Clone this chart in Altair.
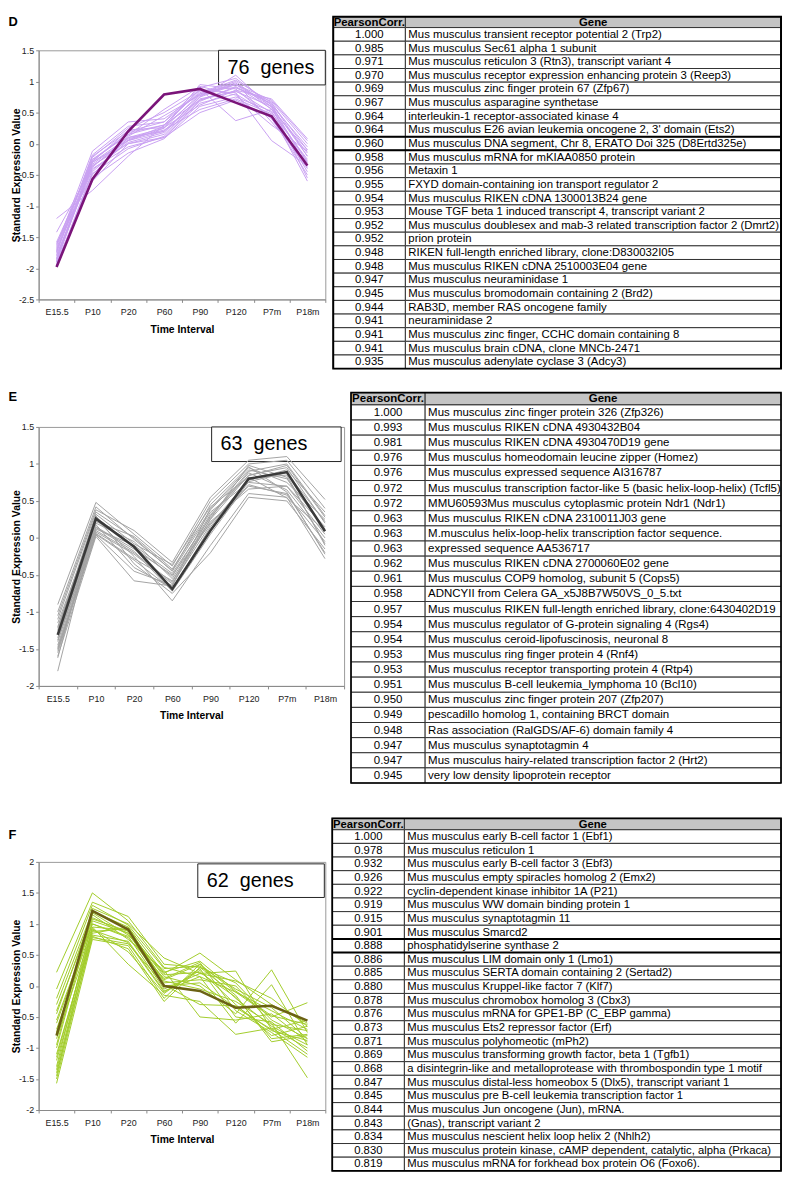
import altair as alt
import pandas as pd

FONT = "Liberation Sans"
TIMES = ["E15.5", "P10", "P20", "P60", "P90", "P120", "P7m", "P18m"]

D_BOLD = [-1.98, -0.57, 0.20, 0.79, 0.88, 0.66, 0.44, -0.35]
D_LINES = [
    [-1.95, -0.45, 0.05, 0.20, 0.75, 0.95, 0.60, -0.20],
    [-1.90, -0.30, 0.10, 0.25, 0.80, 1.00, 0.55, -0.30],
    [-1.85, -0.25, 0.15, 0.30, 0.85, 0.90, 0.65, -0.10],
    [-1.80, -0.35, 0.00, 0.15, 0.70, 0.85, 0.50, -0.25],
    [-1.75, -0.20, 0.20, 0.35, 0.90, 1.05, 0.62, -0.05],
    [-1.70, -0.40, -0.05, 0.10, 0.65, 0.80, 0.45, -0.35],
    [-1.65, -0.12, 0.35, 0.40, 0.80, 0.95, 0.70, 0.05],
    [-1.60, -0.50, 0.10, 0.20, 0.75, 1.10, 0.58, -0.15],
    [-1.58, -0.30, 0.05, 0.25, 0.95, 0.88, 0.40, -0.40],
    [-1.92, -0.55, -0.15, 0.08, 0.60, 0.75, 0.52, -0.45],
    [-1.88, -0.28, 0.18, 0.30, 0.70, 0.90, 0.68, 0.00],
    [-1.20, -0.75, -0.20, 0.30, 0.88, 0.37, 0.55, -0.10],
    [-1.42, -0.38, 0.12, 0.45, 0.78, 0.98, 0.35, -0.30],
    [-1.78, -0.42, 0.02, 0.18, 0.72, 0.84, 0.60, -0.55],
    [-1.68, -0.22, 0.25, 0.50, 0.85, 0.82, 0.05, -0.35],
    [-1.83, -0.33, 0.08, 0.22, 0.55, 0.72, 0.48, -0.60],
    [-1.72, -0.18, 0.28, 0.35, 0.82, 1.02, 0.66, -0.20],
    [-1.97, -0.48, -0.08, 0.12, 0.68, 0.92, 0.56, -0.28],
    [-1.62, -0.26, 0.14, 0.55, 0.92, 0.78, 0.30, -0.12],
    [-1.86, -0.36, 0.06, 0.28, 0.77, 0.96, 0.63, -0.38],
    [-1.74, -0.29, 0.22, 0.26, 0.62, 0.86, 0.72, 0.08],
    [-1.90, -0.60, 0.00, 0.10, 0.50, 0.70, 0.42, -0.50],
]
D_CORR = ["1.000", "0.985", "0.971", "0.970", "0.969", "0.967", "0.964", "0.964",
          "0.960", "0.958", "0.956", "0.955", "0.954", "0.953", "0.952", "0.952",
          "0.948", "0.948", "0.947", "0.945", "0.944", "0.941", "0.941", "0.941", "0.935"]
D_GENES = [
    "Mus musculus transient receptor potential 2 (Trp2)",
    "Mus musculus Sec61 alpha 1 subunit",
    "Mus musculus reticulon 3 (Rtn3), transcript variant 4",
    "Mus musculus receptor expression enhancing protein 3 (Reep3)",
    "Mus musculus zinc finger protein 67 (Zfp67)",
    "Mus musculus asparagine synthetase",
    "interleukin-1 receptor-associated kinase 4",
    "Mus musculus E26 avian leukemia oncogene 2, 3' domain (Ets2)",
    "Mus musculus DNA segment, Chr 8, ERATO Doi 325 (D8Ertd325e)",
    "Mus musculus mRNA for mKIAA0850 protein",
    "Metaxin 1",
    "FXYD domain-containing ion transport regulator 2",
    "Mus musculus RIKEN cDNA 1300013B24 gene",
    "Mouse TGF beta 1 induced transcript 4, transcript variant 2",
    "Mus musculus doublesex and mab-3 related transcription factor 2 (Dmrt2)",
    "prion protein",
    "RIKEN full-length enriched library, clone:D830032I05",
    "Mus musculus RIKEN cDNA 2510003E04 gene",
    "Mus musculus neuraminidase 1",
    "Mus musculus bromodomain containing 2 (Brd2)",
    "RAB3D, member RAS oncogene family",
    "neuraminidase 2",
    "Mus musculus zinc finger, CCHC domain containing 8",
    "Mus musculus brain cDNA, clone MNCb-2471",
    "Mus musculus adenylate cyclase 3 (Adcy3)",
]

E_BOLD = [-1.31, 0.26, -0.12, -0.69, 0.10, 0.80, 0.89, 0.09]
E_LINES = [
    [-1.20, 0.20, -0.05, -0.55, 0.25, 0.85, 0.95, 0.20],
    [-1.45, 0.10, -0.20, -0.60, 0.30, 0.90, 1.00, 0.30],
    [-1.10, 0.35, 0.00, -0.45, 0.35, 0.75, 0.70, 0.05],
    [-1.50, 0.05, -0.30, -0.70, 0.15, 0.80, 0.85, -0.10],
    [-0.90, 0.48, 0.05, -0.38, 0.50, 1.00, 1.05, 0.40],
    [-1.30, 0.15, -0.15, -0.50, 0.20, 0.70, 0.60, -0.20],
    [-1.60, 0.02, -0.58, -0.65, 0.40, 0.95, 0.75, 0.25],
    [-1.80, 0.25, -0.25, -0.85, -0.10, 0.60, 0.55, -0.28],
    [-1.05, 0.38, 0.10, -0.33, 0.55, 1.05, 1.10, 0.52],
    [-1.40, 0.12, -0.10, -0.48, 0.28, 0.88, 0.65, 0.00],
    [-1.25, 0.30, -0.35, -0.75, -0.20, 0.55, 0.50, -0.15],
    [-1.55, 0.08, -0.22, -0.62, 0.18, 0.78, 0.92, 0.35],
    [-1.15, 0.22, 0.02, -0.42, 0.38, 0.92, 0.80, 0.12],
    [-1.35, 0.18, -0.40, -0.68, 0.10, 0.72, 0.58, -0.05],
    [-1.62, 0.28, -0.12, -0.52, 0.32, 0.84, 0.98, 0.28],
    [-1.48, 0.06, -0.28, -0.58, 0.22, 0.66, 0.70, 0.15],
    [-1.00, 0.42, -0.02, -0.44, 0.45, 0.96, 0.62, -0.22],
    [-1.38, 0.14, -0.18, -0.72, 0.05, 0.76, 0.88, 0.22],
    [-1.22, 0.32, -0.08, -0.36, 0.42, 0.82, 0.54, 0.10],
    [-1.52, 0.04, -0.45, -0.64, 0.26, 0.98, 0.82, -0.08],
]
E_CORR = ["1.000", "0.993", "0.981", "0.976", "0.976", "0.972", "0.972", "0.963",
          "0.963", "0.963", "0.962", "0.961", "0.958", "0.957", "0.954", "0.954",
          "0.953", "0.953", "0.951", "0.950", "0.949", "0.948", "0.947", "0.947", "0.945"]
E_GENES = [
    "Mus musculus zinc finger protein 326 (Zfp326)",
    "Mus musculus RIKEN cDNA 4930432B04",
    "Mus musculus RIKEN cDNA 4930470D19 gene",
    "Mus musculus homeodomain leucine zipper (Homez)",
    "Mus musculus expressed sequence AI316787",
    "Mus musculus transcription factor-like 5 (basic helix-loop-helix) (Tcfl5)",
    "MMU60593Mus musculus cytoplasmic protein Ndr1 (Ndr1)",
    "Mus musculus RIKEN cDNA 2310011J03 gene",
    "M.musculus helix-loop-helix transcription factor sequence.",
    "expressed sequence AA536717",
    "Mus musculus RIKEN cDNA 2700060E02 gene",
    "Mus musculus COP9 homolog, subunit 5 (Cops5)",
    "ADNCYII from Celera GA_x5J8B7W50VS_0_5.txt",
    "Mus musculus RIKEN full-length enriched library, clone:6430402D19",
    "Mus musculus regulator of G-protein signaling 4 (Rgs4)",
    "Mus musculus ceroid-lipofuscinosis, neuronal 8",
    "Mus musculus ring finger protein 4 (Rnf4)",
    "Mus musculus receptor transporting protein 4 (Rtp4)",
    "Mus musculus B-cell leukemia_lymphoma 10 (Bcl10)",
    "Mus musculus zinc finger protein 207 (Zfp207)",
    "pescadillo homolog 1, containing BRCT domain",
    "Ras association (RalGDS/AF-6) domain family 4",
    "Mus musculus synaptotagmin 4",
    "Mus musculus hairy-related transcription factor 2 (Hrt2)",
    "very low density lipoprotein receptor",
]

F_BOLD = [-0.80, 1.21, 0.91, 0.00, -0.08, -0.35, -0.32, -0.56]
F_LINES = [
    [0.22, 1.50, 1.05, 0.30, 0.15, -0.10, -0.40, -0.70],
    [-0.05, 1.35, 1.12, 0.35, 0.30, 0.05, -0.55, -0.85],
    [-0.30, 1.20, 0.95, 0.20, 0.53, 0.10, -0.30, -0.60],
    [-0.40, 1.10, 0.85, 0.10, 0.35, -0.20, -0.65, -0.95],
    [-0.55, 1.00, 0.80, -0.05, 0.20, 0.24, -0.70, -1.10],
    [-0.70, 0.95, 0.90, 0.15, 0.00, -0.45, 0.26, -0.75],
    [-0.85, 0.90, 0.70, -0.10, 0.25, -0.30, -0.80, -0.65],
    [-1.00, 1.15, 0.75, 0.25, -0.50, -0.55, -0.45, -0.90],
    [-1.10, 0.85, 0.95, 0.05, 0.10, 0.00, -0.60, -1.48],
    [-1.20, 0.80, 0.60, -0.25, 0.30, -0.15, -0.90, -0.80],
    [-1.30, 1.05, 0.85, 0.00, 0.05, -0.35, -0.70, -0.55],
    [-1.45, 0.95, 0.35, -0.15, -0.25, -0.78, -0.68, -1.00],
    [-1.57, 0.75, 0.65, -0.20, 0.35, -0.10, -0.50, -0.27],
    [-0.95, 1.25, 1.00, 0.45, 0.20, 0.08, -0.20, -0.65],
    [-0.60, 1.00, 0.78, 0.12, 0.38, -0.40, -0.75, -1.15],
    [-1.35, 0.88, 0.92, 0.08, -0.05, -0.25, -0.62, -0.72],
    [-0.20, 1.30, 0.98, 0.28, 0.32, -0.05, -0.35, -0.85],
    [-1.50, 0.82, 0.72, -0.08, 0.15, -0.60, 0.02, -0.95],
    [-0.75, 1.08, 0.88, 0.18, 0.22, -0.18, -0.85, -0.78],
    [-1.15, 0.92, 0.55, -0.12, 0.28, -0.50, -0.58, -1.05],
    [-0.45, 1.18, 0.82, 0.22, 0.40, -0.08, -0.48, -0.62],
    [-1.40, 0.78, 0.68, 0.02, -0.30, -0.32, -0.72, -0.88],
]
F_CORR = ["1.000", "0.978", "0.932", "0.926", "0.922", "0.919", "0.915", "0.901",
          "0.888", "0.886", "0.885", "0.880", "0.878", "0.876", "0.873", "0.871",
          "0.869", "0.868", "0.847", "0.845", "0.844", "0.843", "0.834", "0.830", "0.819"]
F_GENES = [
    "Mus musculus early B-cell factor 1 (Ebf1)",
    "Mus musculus reticulon 1",
    "Mus musculus early B-cell factor 3 (Ebf3)",
    "Mus musculus empty spiracles homolog 2 (Emx2)",
    "cyclin-dependent kinase inhibitor 1A (P21)",
    "Mus musculus WW domain binding protein 1",
    "Mus musculus synaptotagmin 11",
    "Mus musculus Smarcd2",
    "phosphatidylserine synthase 2",
    "Mus musculus LIM domain only 1 (Lmo1)",
    "Mus musculus SERTA domain containing 2 (Sertad2)",
    "Mus musculus Kruppel-like factor 7 (Klf7)",
    "Mus musculus chromobox homolog 3  (Cbx3)",
    "Mus musculus mRNA for GPE1-BP (C_EBP gamma)",
    "Mus musculus Ets2 repressor factor (Erf)",
    "Mus musculus polyhomeotic (mPh2)",
    "Mus musculus transforming growth factor, beta 1 (Tgfb1)",
    "a disintegrin-like and metalloprotease with thrombospondin type 1 motif",
    "Mus musculus distal-less homeobox 5 (Dlx5), transcript variant 1",
    "Mus musculus pre B-cell leukemia transcription factor 1",
    "Mus musculus Jun oncogene (Jun), mRNA.",
    "(Gnas), transcript variant 2",
    "Mus musculus nescient helix loop helix 2 (Nhlh2)",
    "Mus musculus protein kinase, cAMP dependent, catalytic, alpha (Prkaca)",
    "Mus musculus mRNA for forkhead box protein O6 (Foxo6).",
]


def line_df(lines):
    recs = []
    for k, s in enumerate(lines):
        for t, v in zip(TIMES, s):
            recs.append({"gene": k, "time": t, "value": v})
    return pd.DataFrame(recs)


def line_chart(letter, lines, bold, light, dark, ydom, yvals, width, height,
               label, box, letter_pos):
    xenc = alt.X("time:N", sort=TIMES,
                 scale=alt.Scale(type="band", domain=TIMES, paddingInner=0, paddingOuter=0),
                 axis=alt.Axis(title="Time Interval", labelAngle=0, tickBand="extent",
                               labelPadding=5.5, titlePadding=7.5))
    yenc = alt.Y("value:Q", scale=alt.Scale(domain=ydom, nice=False, zero=False),
                 axis=alt.Axis(title="Standard Expression Value", values=yvals,
                               labelExpr="toString(datum.value)", labelPadding=2,
                               titlePadding=-3.5))
    bx0, bx1, by0, by1 = box
    lab = pd.DataFrame({"label": [label], "letter": [letter]})
    rect = alt.Chart(lab).mark_rect(fill="white", stroke="#222", strokeWidth=1).encode(
        x=alt.value(bx0), x2=alt.value(bx1), y=alt.value(by0), y2=alt.value(by1))
    light_l = alt.Chart(line_df(lines)).mark_line(color=light, strokeWidth=1).encode(
        x=xenc, y=yenc, detail="gene:N")
    bold_l = alt.Chart(pd.DataFrame({"time": TIMES, "value": bold})).mark_line(
        color=dark, strokeWidth=2.6).encode(x=xenc, y=yenc)
    txt = alt.Chart(lab).mark_text(align="left", baseline="middle", font=FONT,
                                   fontSize=20, color="#000").encode(
        x=alt.value(bx0 + 9), y=alt.value((by0 + by1) / 2), text="label:N")
    let = alt.Chart(lab).mark_text(align="left", baseline="top", font=FONT,
                                   fontSize=13, fontWeight="bold", color="#000").encode(
        x=alt.value(letter_pos[0]), y=alt.value(letter_pos[1]), text="letter:N")
    return alt.layer(rect, light_l, bold_l, txt, let).properties(
        width=width, height=height,
        view=alt.ViewBackground(stroke="#9a9a9a", strokeWidth=1))


def table_chart(corr, genes, width, view_h, top, header_h, row_h, div, fsize,
                thick_rows, border_w):
    # 'top' is where the table begins relative to the neighbouring plot's top edge
    n = len(corr)
    L, R = 1, width - 1
    T = top
    H0 = T + header_h
    tops = [H0 + i * row_h for i in range(n)]
    bottom = H0 + n * row_h
    xs = alt.Scale(domain=[0, width], nice=False, zero=False)
    ys = alt.Scale(domain=[0, view_h], nice=False, zero=False, reverse=True)

    def X(f):
        return alt.X(f, type="quantitative", scale=xs, axis=None)

    def Y(f):
        return alt.Y(f, type="quantitative", scale=ys, axis=None)

    head = pd.DataFrame({"x0": [L, div], "x1": [div, R], "y0": [T, T], "y1": [H0, H0],
                         "label": ["PearsonCorr.", "Gene"],
                         "xc": [(L + div) / 2, (div + R) / 2],
                         "yc": [T + header_h / 2 + 0.5] * 2})
    cells = pd.DataFrame({"x0": [L] * n + [div] * n, "x1": [div] * n + [R] * n,
                          "y0": tops * 2, "y1": [t + row_h for t in tops] * 2})
    rows = pd.DataFrame({"corr": corr, "gene": genes,
                         "yc": [t + row_h / 2 + 0.5 for t in tops],
                         "xc": [(L + div) / 2] * n, "xg": [div + 3] * n})
    thick_y = []
    for i in thick_rows:
        thick_y += [tops[i], tops[i] + row_h]
    thick = pd.DataFrame({"y": thick_y, "x0": [L] * len(thick_y), "x1": [R] * len(thick_y)})
    outer = pd.DataFrame({"x0": [L], "x1": [R], "y0": [T], "y1": [bottom]})

    head_rect = alt.Chart(head).mark_rect(fill="#c4c4c4", stroke="#333", strokeWidth=1).encode(
        x=X("x0"), x2="x1", y=Y("y0"), y2="y1")
    body_rect = alt.Chart(cells).mark_rect(fill="white", stroke="#333", strokeWidth=1).encode(
        x=X("x0"), x2="x1", y=Y("y0"), y2="y1")
    layers = [head_rect, body_rect]
    if thick_y:
        layers.append(alt.Chart(thick).mark_rule(color="#000", strokeWidth=2).encode(
            x=X("x0"), x2="x1", y=Y("y")))
    outer_rect = alt.Chart(outer).mark_rect(filled=False, stroke="#000", strokeWidth=border_w).encode(
        x=X("x0"), x2="x1", y=Y("y0"), y2="y1")
    head_txt = alt.Chart(head).mark_text(font=FONT, fontSize=fsize, fontWeight="bold",
                                         baseline="middle", align="center", color="#000").encode(
        x=X("xc"), y=Y("yc"), text="label:N")
    corr_txt = alt.Chart(rows).mark_text(font=FONT, fontSize=fsize, baseline="middle",
                                         align="center", color="#000").encode(
        x=X("xc"), y=Y("yc"), text="corr:N")
    gene_txt = alt.Chart(rows).mark_text(font=FONT, fontSize=fsize, baseline="middle",
                                         align="left", color="#000",
                                         limit=R - div - 2, ellipsis="").encode(
        x=X("xg"), y=Y("yc"), text="gene:N")
    layers += [outer_rect, head_txt, corr_txt, gene_txt]
    return alt.layer(*layers).properties(
        width=width, height=view_h,
        view=alt.ViewBackground(stroke="transparent"))


yD = [-2.5, -2, -1.5, -1, -0.5, 0, 0.5, 1, 1.5]
yE = [-2, -1.5, -1, -0.5, 0, 0.5, 1, 1.5]
yF = [-2, -1.5, -1, -0.5, 0, 0.5, 1, 1.5, 2]

chartD = line_chart("D", D_LINES, D_BOLD, "#c9a1f2", "#7a1479", [-2.5, 1.5], yD, 290, 252,
                    "76\u00a0 genes", (182, 290, 0, 35), (-30.5, -35))
chartE = line_chart("E", E_LINES, E_BOLD, "#a3a3a3", "#3a3a3a", [-2, 1.5], yE, 309, 262,
                    "63\u00a0 genes", (175, 306, 0, 35), (-30.5, -36))
chartF = line_chart("F", F_LINES, F_BOLD, "#a2cc2a", "#6b6214", [-2, 2], yF, 290, 251,
                    "62\u00a0 genes", (161, 289, 2, 36), (-30.5, -33))

tableD = table_chart(D_CORR, D_GENES, 455, 323, -34, 11, 13.8, 74, 11.5, [8], 2)
tableE = table_chart(E_CORR, E_GENES, 437, 373.1, -34.7, 12.4, 15.3, 76, 11.6, [], 1.6)
tableF = table_chart(F_CORR, F_GENES, 456, 314, -44, 11.5, 13.8, 74, 11.4, [8], 1.8)

rowD = alt.hconcat(chartD, tableD, spacing=5)
rowE = alt.hconcat(chartE, tableE, spacing=4)
rowF = alt.hconcat(chartF, tableF, spacing=4)

chart = alt.vconcat(rowD, rowE, rowF, spacing=20).properties(
    padding=0,
    background="white",
).configure_axis(
    labelFont=FONT, titleFont=FONT, labelFontSize=9, titleFontSize=10.5,
    titleFontWeight="bold", labelColor="#222", titleColor="#000",
    tickColor="#8a8a8a", domainColor="#8a8a8a", tickSize=3, grid=False,
).configure_view(stroke="transparent")

chart.save("out.html", embed_options={"renderer": "svg", "actions": False})
